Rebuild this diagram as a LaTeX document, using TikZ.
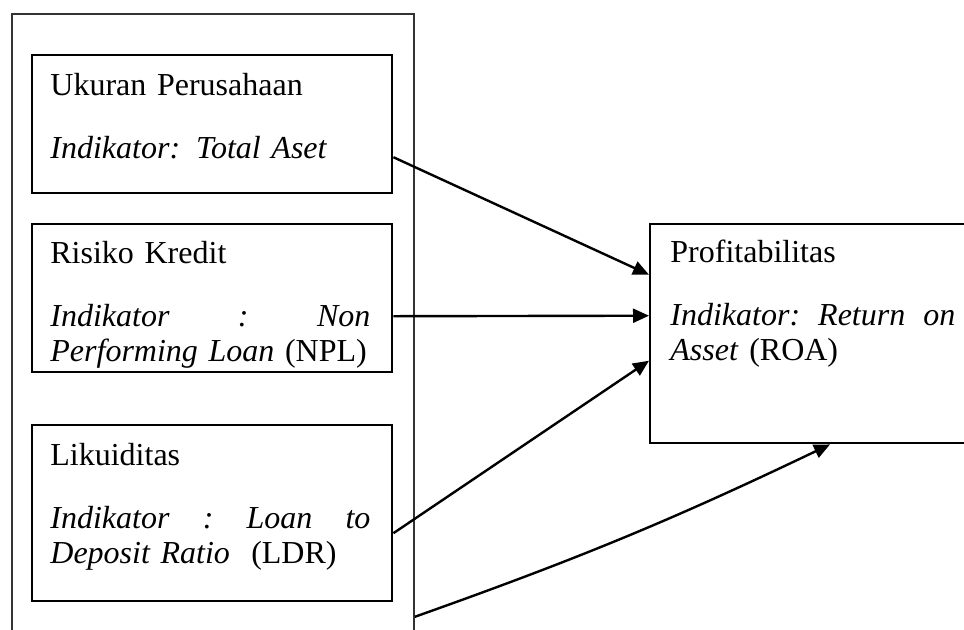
\documentclass[tikz,border=0pt]{standalone}
\usepackage{fontspec}
\setmainfont{Liberation Serif}
\usetikzlibrary{arrows.meta}
\tikzset{
  varbox/.style={draw, line width=1.2pt, inner sep=0pt, anchor=north west},
  txt/.style={align=left, inner sep=0pt, anchor=base west, font=\fontsize{16}{17.5}\selectfont},
  link/.style={line width=1.2pt, -{Triangle[length=8pt,width=7pt]}}
}
\begin{document}
\begin{tikzpicture}[x=0.5pt,y=-0.5pt]
\useasboundingbox (0,0) rectangle (964,629);
% Draw the outer frame
\node (grp) [draw, line width=0.9pt, black!80, inner sep=0pt, anchor=north west,
  minimum width=201pt, minimum height=330pt] at (11,13) {};
% Draw the independent variable boxes
\node (b1) [varbox, minimum width=180pt, minimum height=69pt] at (31,54) {};
\node (t1) [txt, text width=160pt] at ([shift={(19,41)}]b1.north west)
  {Ukuran Perusahaan\\[14pt]\textit{Indikator: Total Aset}};
\node (b2) [varbox, minimum width=180pt, minimum height=74pt] at (31,223) {};
\node (t2) [txt, text width=160pt] at ([shift={(19,40)}]b2.north west)
  {Risiko Kredit\\[14pt]\textit{Indikator}\hfill\textit{:}\hfill\textit{Non}\\
   \textit{Performing Loan} (NPL)};
\node (b3) [varbox, minimum width=180pt, minimum height=88pt] at (31,424) {};
\node (t3) [txt, text width=160pt] at ([shift={(19,41)}]b3.north west)
  {Likuiditas\\[14pt]\textit{Indikator}\hfill\textit{:}\hfill\textit{Loan}\hfill\textit{to}\\
   \textit{Deposit Ratio}~ (LDR)};
% Draw the dependent variable box
\node (res) [varbox, minimum width=166pt, minimum height=109.5pt] at (649,223) {};
\node (tr) [txt, text width=142.5pt] at ([shift={(21,39)}]res.north west)
  {Profitabilitas\\[14pt]\textit{Indikator:}\hfill\textit{Return}\hfill\textit{on}\\
   \textit{Asset} (ROA)};
% Draw the arrows
\draw [link] ([shift={(0,33)}]b1.east) -- ([shift={(0,-59)}]res.west);
\draw [link] ([shift={(0,18)}]b2.east) -- ([shift={(0,-18)}]res.west);
\draw [link] ([shift={(0,20)}]b3.east) -- ([shift={(0,27)}]res.west);
\draw [link] ([shift={(0,-58)}]grp.south east) to[bend right=3] ([shift={(181,0)}]res.south west);
\end{tikzpicture}
\end{document}
